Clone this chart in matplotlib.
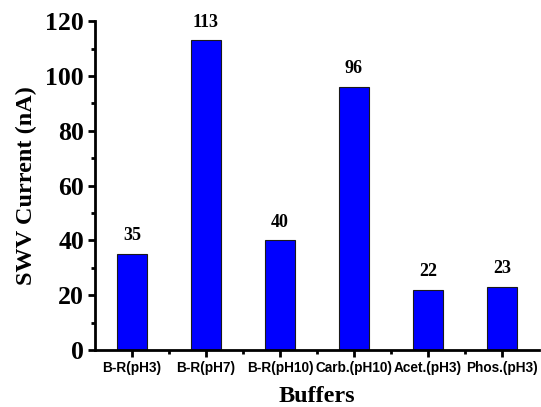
import numpy as np
import matplotlib
matplotlib.use('Agg')
import matplotlib.pyplot as plt
from matplotlib.ticker import MultipleLocator

# buffer screening data
buffers = ['B-R(pH3)', 'B-R(pH7)', 'B-R(pH10)', 'Carb.(pH10)', 'Acet.(pH3)', 'Phos.(pH3)']
current = [35, 113, 40, 96, 22, 23]

serif = ['Liberation Serif', 'DejaVu Serif']
sans = ['Liberation Sans', 'DejaVu Sans']

fig = plt.figure(figsize=(5.41, 4.07), dpi=100)
ax = fig.add_axes([0.1756, 0.14, 0.8207, 0.808])

x = np.arange(len(buffers))
ax.bar(x, current, width=0.4, color='#0000ff', edgecolor='#1a1a1a', linewidth=0.8)

for xi, v in zip(x, current):
    ax.annotate(str(v), (xi, v), xytext=(0, 7), textcoords='offset points',
                ha='center', va='bottom', fontsize=13, fontweight='bold', family=serif)

ax.set_xlim(-0.5, 5.5)
ax.set_ylim(0, 120)
ax.yaxis.set_major_locator(MultipleLocator(20))
ax.yaxis.set_minor_locator(MultipleLocator(10))
ax.set_xticks(x)
ax.set_xticks(x[:-1] + 0.5, minor=True)
ax.set_xticklabels(buffers, fontsize=9.8, fontweight='bold', family=sans)
for lab in ax.get_yticklabels():
    lab.set_fontsize(18.5)
    lab.set_fontweight('bold')
    lab.set_family(serif)

ax.spines['top'].set_visible(False)
ax.spines['right'].set_visible(False)
ax.spines['left'].set_linewidth(2)
ax.spines['bottom'].set_linewidth(2)
ax.tick_params(which='major', direction='out', length=5, width=2, pad=3)
ax.tick_params(which='minor', direction='out', length=3, width=2)

ax.set_xlabel('Buffers', fontsize=17.5, fontweight='bold', family=serif, labelpad=8)
ax.set_ylabel('SWV Current (nA)', fontsize=17.5, fontweight='bold', family=serif, labelpad=6)

fig.savefig('out.png', dpi=100)
